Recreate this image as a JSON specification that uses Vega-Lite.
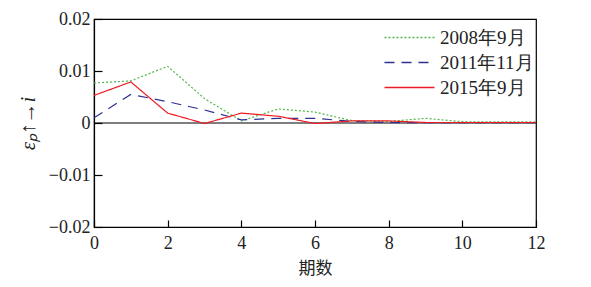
{
  "$schema": "https://vega.github.io/schema/vega-lite/v6.json",
  "width": 442,
  "height": 208,
  "autosize": "none",
  "padding": {"left": 94, "top": 19, "right": 55, "bottom": 60},
  "background": "white",
  "config": {
    "font": "Liberation Serif",
    "view": {"stroke": "black", "strokeWidth": 1.2},
    "axis": {
      "labelFont": "Liberation Serif",
      "labelFontSize": 18,
      "labelColor": "#222",
      "titleFont": "Liberation Serif",
      "titleFontWeight": "normal",
      "titleColor": "#222",
      "domainColor": "black",
      "domainWidth": 1.2,
      "tickColor": "black",
      "tickWidth": 1.2,
      "grid": false
    }
  },
  "data": {
    "values": [
      {"t": 0, "s": "2008年9月", "v": 0.0077},
      {"t": 1, "s": "2008年9月", "v": 0.0081},
      {"t": 2, "s": "2008年9月", "v": 0.0109},
      {"t": 3, "s": "2008年9月", "v": 0.0047},
      {"t": 4, "s": "2008年9月", "v": 0.0004},
      {"t": 5, "s": "2008年9月", "v": 0.0027},
      {"t": 6, "s": "2008年9月", "v": 0.0021},
      {"t": 7, "s": "2008年9月", "v": 0.00045},
      {"t": 8, "s": "2008年9月", "v": 0.0003},
      {"t": 9, "s": "2008年9月", "v": 0.0009},
      {"t": 10, "s": "2008年9月", "v": 0.00025},
      {"t": 11, "s": "2008年9月", "v": 0.0002},
      {"t": 12, "s": "2008年9月", "v": 0.0002},
      {"t": 0, "s": "2011年11月", "v": 0.001},
      {"t": 1, "s": "2011年11月", "v": 0.0055},
      {"t": 2, "s": "2011年11月", "v": 0.0041},
      {"t": 3, "s": "2011年11月", "v": 0.0025},
      {"t": 4, "s": "2011年11月", "v": 0.0006},
      {"t": 5, "s": "2011年11月", "v": 0.0009},
      {"t": 6, "s": "2011年11月", "v": 0.0009},
      {"t": 7, "s": "2011年11月", "v": 0.0003},
      {"t": 8, "s": "2011年11月", "v": 0.0001},
      {"t": 9, "s": "2011年11月", "v": 0.00005},
      {"t": 10, "s": "2011年11月", "v": 0.00005},
      {"t": 11, "s": "2011年11月", "v": 0.00005},
      {"t": 12, "s": "2011年11月", "v": 0.00005},
      {"t": 0, "s": "2015年9月", "v": 0.0053},
      {"t": 1, "s": "2015年9月", "v": 0.0079},
      {"t": 2, "s": "2015年9月", "v": 0.0019},
      {"t": 3, "s": "2015年9月", "v": -0.0001},
      {"t": 4, "s": "2015年9月", "v": 0.0019},
      {"t": 5, "s": "2015年9月", "v": 0.0013},
      {"t": 6, "s": "2015年9月", "v": -0.0001},
      {"t": 7, "s": "2015年9月", "v": 0.0004},
      {"t": 8, "s": "2015年9月", "v": 0.0004},
      {"t": 9, "s": "2015年9月", "v": 0.0001},
      {"t": 10, "s": "2015年9月", "v": 0.0001},
      {"t": 11, "s": "2015年9月", "v": 0.0001},
      {"t": 12, "s": "2015年9月", "v": 0.0001}
    ]
  },
  "layer": [
    {
      "mark": {"type": "rule", "color": "black", "strokeWidth": 1.2},
      "data": {"values": [{"z": 0}]},
      "encoding": {"y": {"field": "z", "type": "quantitative"}}
    },
    {
      "mark": {"type": "line", "strokeWidth": 1.2},
      "encoding": {
        "x": {
          "field": "t",
          "type": "quantitative",
          "scale": {"domain": [0, 12], "nice": false},
          "axis": {
            "values": [0, 2, 4, 6, 8, 10, 12],
            "tickSize": -7,
            "labelPadding": 14,
            "title": "期数",
            "titleFont": "Noto Sans CJK SC",
            "titleFontSize": 17,
            "titlePadding": 8,
            "labelFlush": false
          }
        },
        "y": {
          "field": "v",
          "type": "quantitative",
          "scale": {"domain": [-0.02, 0.02], "nice": false},
          "axis": {
            "values": [-0.02, -0.01, 0, 0.01, 0.02],
            "format": ".2~f",
            "tickSize": -8,
            "labelPadding": 12,
            "title": "εₚ↑→i",
            "titleFontStyle": "italic",
            "titleFontSize": 21,
            "titlePadding": 10,
            "labelFlush": false
          }
        },
        "color": {
          "field": "s",
          "type": "nominal",
          "scale": {"domain": ["2008年9月", "2011年11月", "2015年9月"], "range": ["#4fb848", "#2e3192", "#ed1c24"]},
          "legend": {
            "title": null,
            "orient": "none",
            "legendX": 326,
            "legendY": 9,
            "symbolType": "M-9,0H1",
            "symbolSize": 100,
            "symbolStrokeWidth": 1.3,
            "labelFont": "Liberation Serif",
            "labelFontSize": 19,
            "labelColor": "#222",
            "labelOffset": 1,
            "rowPadding": 5
          }
        },
        "strokeDash": {
          "field": "s",
          "type": "nominal",
          "scale": {"domain": ["2008年9月", "2011年11月", "2015年9月"], "range": [[2, 2], [10, 7], [1, 0]]},
          "legend": null
        }
      }
    }
  ]
}
